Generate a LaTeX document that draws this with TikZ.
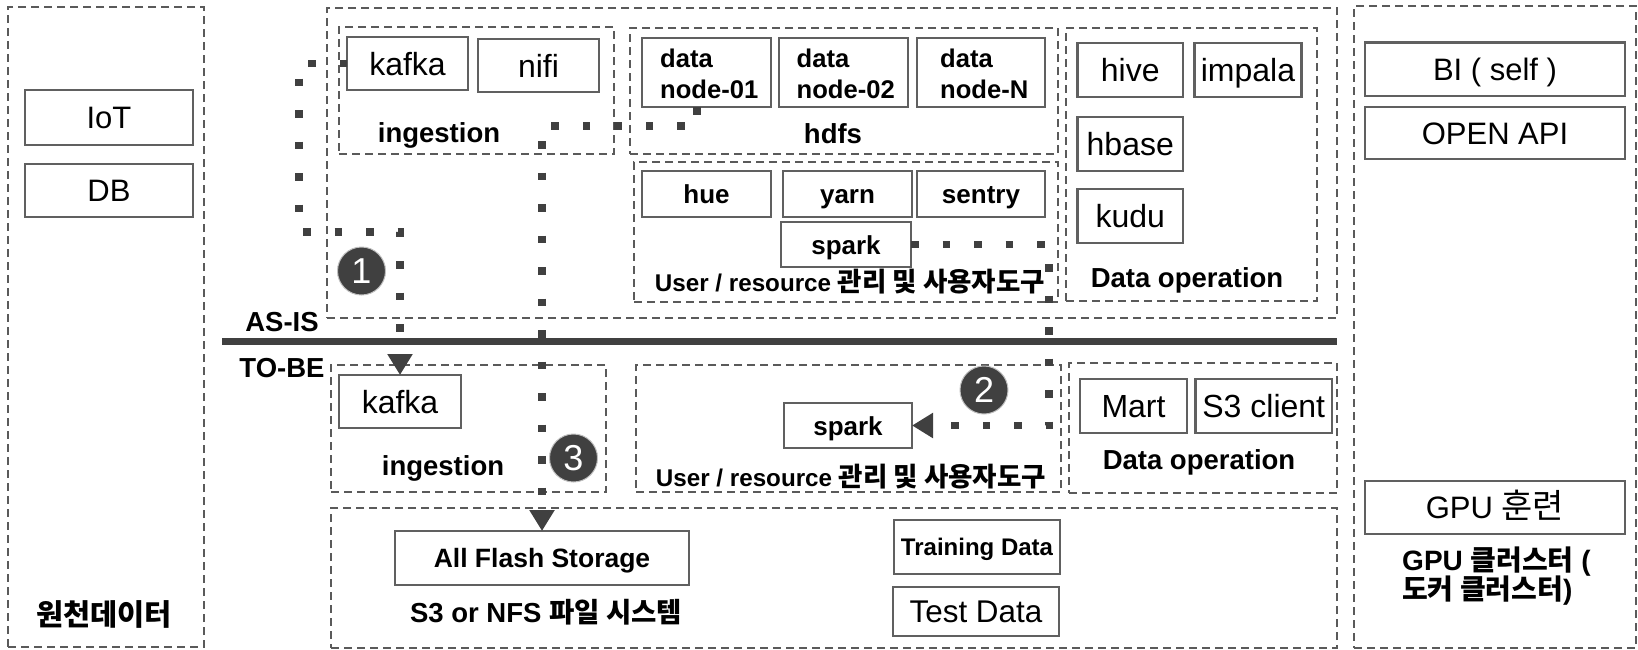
\documentclass[tikz,border=0pt]{standalone}
\usepackage{fontspec}
\setmainfont{Liberation Sans}
\newfontfamily\kr{Noto Sans CJK KR}
\newcommand\kru{\kr\fontsize{26.5}{28}\selectfont}
\usetikzlibrary{arrows.meta,fit}
\definecolor{dg}{HTML}{404040}
\definecolor{bd}{HTML}{606060}
\definecolor{dsh}{HTML}{5A5A5A}
\begin{document}
\begin{tikzpicture}[x=1pt,y=-1pt,
  dbox/.style={draw=dsh, line width=1.8pt, dash pattern=on 8pt off 5pt, inner sep=0pt},
  sbox/.style={draw=bd, line width=2.6pt, fill=white, inner sep=0pt, outer sep=0pt},
  conn/.style={draw=dg, line width=7.5pt, dash pattern=on 7.5pt off 24pt},
  arr/.style={-{Triangle[width=24pt,length=21pt]}},
  num/.style={circle, fill=dg, draw=gray!50, line width=1pt, minimum size=48pt, inner sep=0pt, text=white, font=\fontsize{36}{36}\selectfont},
  reg/.style={font=\fontsize{32}{36}\selectfont, text height=23pt, text depth=0pt},
  regb/.style={font=\fontsize{31}{36}\selectfont, text height=22pt, text depth=0pt},
  lbl/.style={inner sep=0pt, anchor=base},
  bl/.style={lbl, font=\bfseries\fontsize{27.5}{30}\selectfont},
  bs/.style={font=\bfseries\fontsize{26}{30}\selectfont, text height=19pt, text depth=0pt},
  bu/.style={lbl, font=\bfseries\fontsize{24.2}{28}\selectfont},
  dn/.style={inner sep=0pt, anchor=north west, align=left, font=\bfseries\fontsize{25.6}{31}\selectfont},
  wh/.style 2 args={minimum width=#1pt, minimum height=#2pt}
]
\useasboundingbox (0,0) rectangle (1638,649);

% containers
\node[dbox, fit={(8,7) (204,647)}] (src) {};
\node[dbox, fit={(327,8) (1337,318)}] (asis) {};
\node[dbox, fit={(339,27) (614,154)}] (ingA) {};
\node[dbox, fit={(630,28) (1058,154)}] (hdfs) {};
\node[dbox, fit={(634,162) (1058,302)}] (userA) {};
\node[dbox, fit={(1066,28) (1317,301)}] (dopA) {};
\node[dbox, fit={(331,365) (606,492)}] (ingB) {};
\node[dbox, fit={(636,365) (1061,492)}] (userB) {};
\node[dbox, fit={(1069,363) (1337,493)}] (dopB) {};
\node[dbox, fit={(331,508) (1337,648)}] (stor) {};
\node[dbox, fit={(1354,6) (1636,648)}] (gpuc) {};

% divider
\draw[dg, line width=7pt] (222,341.5) -- (1337,341.5);

% source data
\node[sbox, regb, wh={168}{55}] (iot) at (109,117.5) {IoT};
\node[sbox, regb, wh={168}{53}] (db) at (109,190.5) {DB};
\node[lbl, font=\bfseries\fontsize{29.5}{30}\selectfont\kr] (srcl) at (104,625.5) {원천데이터};

% AS-IS
\node[sbox, reg, wh={121}{53}] (kafkaA) at (407.5,63.5) {kafka};
\node[sbox, reg, wh={121}{53}] (nifi) at (538.5,65.5) {nifi};
\node[bl] (ingAl) at (439,142.5) {ingestion};

\node[sbox, wh={129}{69}] (dnA) at (706.5,72.5) {};
\node[sbox, wh={129}{69}] (dnB) at (843.5,72.5) {};
\node[sbox, wh={128}{69}] (dnN) at (981,72.5) {};
\node[dn] (dnAl) at (660,49) {data\\node-01};
\node[dn] (dnBl) at (796.5,49) {data\\node-02};
\node[dn] (dnNl) at (940,49) {data\\node-N};
\node[bl] (hdfsl) at (833,143) {hdfs};

\node[sbox, bs, wh={129}{46}] (hue) at (706.5,194) {hue};
\node[sbox, bs, wh={129}{46}] (yarn) at (847.5,194) {yarn};
\node[sbox, bs, wh={128}{46}] (sentry) at (981,194) {sentry};
\node[sbox, bs, wh={130}{45}] (sparkA) at (846,244.5) {spark};
\node[bu] (userAl) at (850,291) {User / resource {\kru 관리 및 사용자도구}};

\node[sbox, reg, wh={105.5}{54}] (hive) at (1130.25,70) {hive};
\node[sbox, reg, wh={107}{54}] (impala) at (1248,70) {impala};
\node[sbox, reg, wh={105.5}{54}] (hbase) at (1130.25,144) {hbase};
\node[sbox, reg, wh={105.5}{54}] (kudu) at (1130.25,216) {kudu};
\node[bl] (dopAl) at (1187,287) {Data operation};

\node[bl] (asisl) at (282,331) {AS-IS};
\node[bl] (tobel) at (282,377.5) {TO-BE};

% TO-BE
\node[sbox, reg, wh={122}{53}] (kafkaB) at (400,401.5) {kafka};
\node[bl] (ingBl) at (443,475) {ingestion};
\node[sbox, bs, wh={128}{45}] (sparkB) at (848,425.5) {spark};
\node[bu] (userBl) at (851,486) {User / resource {\kru 관리 및 사용자도구}};
\node[sbox, reg, wh={107}{54}] (mart) at (1133.5,406) {Mart};
\node[sbox, reg, wh={136.5}{54}] (s3c) at (1263.75,406) {S3 client};
\node[bl] (dopBl) at (1199,469) {Data operation};

\node[sbox, font=\bfseries\fontsize{26.5}{30}\selectfont, text height=19pt, text depth=0pt, wh={294}{54}] (afs) at (542,558) {All Flash Storage};
\node[bl] (storl) at (546,622) {S3 or NFS {\kr 파일 시스템}};
\node[sbox, font=\bfseries\fontsize{24}{28}\selectfont, text height=17pt, text depth=0pt, wh={166}{54}] (train) at (977,547) {Training Data};
\node[sbox, font=\fontsize{31.4}{36}\selectfont, text height=22.5pt, text depth=0pt, wh={166}{49}] (test) at (976,611.5) {Test Data};

% right column
\node[sbox, regb, wh={260}{53.4}] (bi) at (1495,69.3) {BI ( self )};
\node[sbox, regb, wh={260}{52}] (api) at (1495,133) {OPEN API};
\node[sbox, regb, wh={260}{53}] (gpu) at (1495,507.5) {GPU {\kr\fontsize{34}{36}\selectfont 훈련}};
\node[inner sep=0pt, anchor=west, align=left, font=\bfseries\fontsize{28}{29.5}\selectfont] (gpul) at (1402,576) {GPU {\kr 클러스터} (\\{\kr 도커 클러스터})};

% connectors
\draw[conn, arr] (kafkaA.west) -- ++(-48,0) -- ++(0,168.5) -| (kafkaB.north);
\draw[conn, arr] ([xshift=-9.5pt]dnA.south) -- ++(0,19) -| (afs.north);
\draw[conn, arr] (sparkA.east) -- ++(138,0) |- (sparkB.east);

% step markers
\node[num] (c1) at (361.5,271) {1};
\node[num] (c2) at (984,390) {2};
\node[num] (c3) at (573.5,458) {3};
\end{tikzpicture}
\end{document}
